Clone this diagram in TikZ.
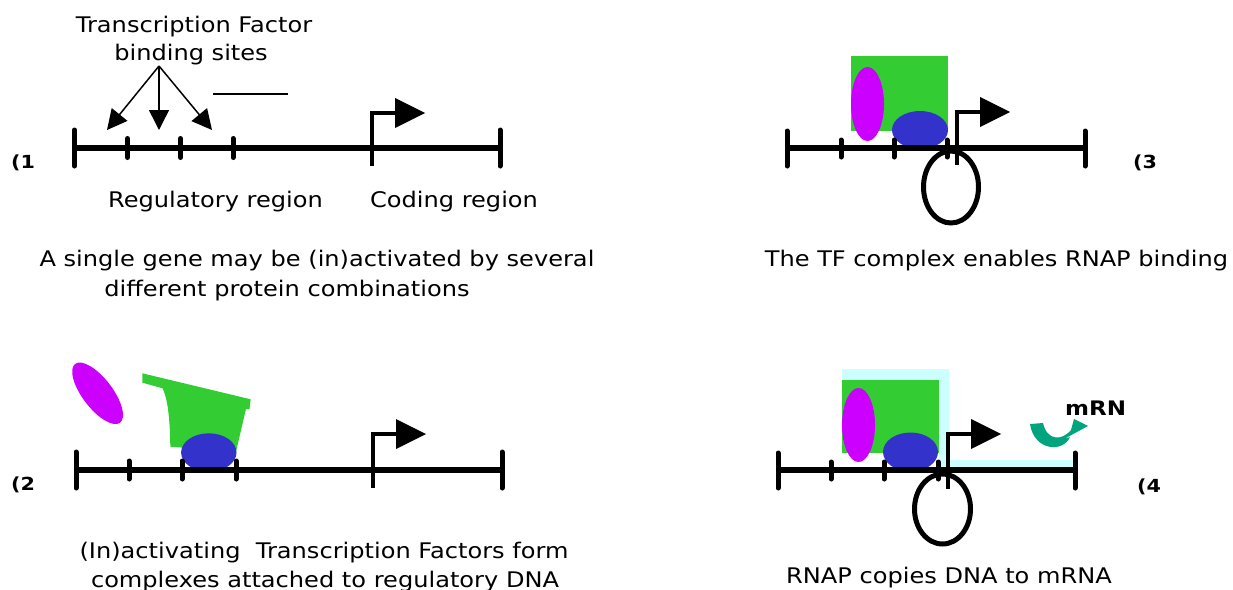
\documentclass[tikz,border=0pt]{standalone}
\usepackage{fontspec}
\setmainfont{DejaVu Sans}[FakeStretch=1.12]
\newfontfamily\tagfont{DejaVu Sans}[FakeStretch=1.15]
\usetikzlibrary{arrows.meta}
\definecolor{tfgreen}{RGB}{51,204,51}
\definecolor{tfpink}{RGB}{204,0,255}
\definecolor{tfblue}{RGB}{51,51,204}
\definecolor{rnapcyan}{RGB}{204,255,255}
\definecolor{mrnateal}{RGB}{0,165,125}

\begin{document}
\begin{tikzpicture}[x=1pt, y=-1pt,
   every node/.style={inner sep=0pt, anchor=base, font=\fontsize{21.5}{30}\selectfont},
   tag/.style={anchor=base west, font=\tagfont\bfseries\fontsize{18}{20}\selectfont},
   dna/.style={line width=6pt},
   site/.style={line width=5pt, line cap=round},
   start/.style={line width=4pt},
   pointer/.style={line width=1.5pt, -{Triangle[length=20pt, width=20pt]}},
   loop/.style={line width=5pt}]
\useasboundingbox (0,0) rectangle (1233,589);

% (1) empty gene
\node (tftitle) at (194,32) {Transcription Factor};
\node (tfsites) at (191,60) {binding sites};
\coordinate (fork) at (159,66);
\coordinate (site1) at (107,130);
\coordinate (site2) at (159,130);
\coordinate (site3) at (212,130);
\draw [pointer] (fork) -- (site1);
\draw [pointer] (fork) -- (site2);
\draw [pointer] (fork) -- (site3);
\draw [line width=1.5pt] (213,94) -- (288,94);

\draw [dna] (75,147.5) -- (500,147.5);
\draw [site] (74.5,130) -- (74.5,166) (500,130) -- (500,166);
\draw [site] (127.5,138.5) -- (127.5,157.5) (180.5,138.5) -- (180.5,157.5) (233,138.5) -- (233,157.5);
\draw [start] (372,166) |- (396,113);
\fill (395,98) -- (425,113) -- (395,128) -- cycle;

\node [tag] (num1) at (11,168) {(1};
\node (reg) at (215.5,207) {Regulatory region};
\node (cod) at (454,207) {Coding region};
\node (cap1a) at (317,266) {A single gene may be (in)activated by several};
\node (cap1b) at (287,296) {different protein combinations};

% (2) factors arrive
\fill [tfpink, rotate around={-52.6:(97.6,393.3)}] (97.6,393.3) ellipse [x radius=37, y radius=15];
\fill [tfgreen] (142.4,373.3) -- (250.7,399.3) -- (249.5,409) -- (246,409) -- (236,451.7)
   -- (170.3,446.7) .. controls (170,420) and (168,400) .. (162.6,388.3) -- (142.4,382.7) -- cycle;
\fill [tfblue] (208.8,452.5) ellipse [x radius=27.7, y radius=19.2];

\draw [dna] (76,470) -- (502,470);
\draw [site] (76,452) -- (76,488) (502,452) -- (502,488);
\draw [site] (129,461) -- (129,479) (182,461) -- (182,479) (236,461) -- (236,479);
\draw [start] (373,488) |- (397,434);
\fill (396,419) -- (426,434) -- (396,449) -- cycle;

\node [tag] (num2) at (11,490) {(2};
\node (cap2a) at (324,558) {(In)activating\ \ Transcription Factors form};
\node (cap2b) at (325,587) {complexes attached to regulatory DNA};

% (3) polymerase bound
\fill [tfgreen] (851,56) rectangle (948,131);
\fill [tfpink] (867.5,104) ellipse [x radius=16.5, y radius=37];
\fill [tfblue] (920,130) ellipse [x radius=28, y radius=19];

\draw [dna] (787,148) -- (1085,148);
\draw [site] (787,131) -- (787,166) (1085,131) -- (1085,166);
\draw [site] (841,140) -- (841,157) (894,140) -- (894,157) (947,140) -- (947,157);
\draw [start] (957,165) |- (981,112);
\fill (980,97) -- (1010,112) -- (980,127) -- cycle;
\draw [loop] (951,187) ellipse [x radius=27.5, y radius=36];

\node [tag] (num3) at (1133,168) {(3};
\node (cap3) at (996.5,266) {The TF complex enables RNAP binding};

% (4) transcription
\fill [rnapcyan] (842,369) -- (949,369) -- (949,460) -- (1073,460) -- (1073,468)
   -- (939,468) -- (939,380) -- (842,380) -- cycle;
\fill [tfgreen] (842,380) rectangle (939,453);
\fill [tfpink] (858.5,425) ellipse [x radius=16.5, y radius=37];
\fill [tfblue] (910.5,452) ellipse [x radius=27.5, y radius=19.5];

\draw [dna] (778,470) -- (1075,470);
\draw [site] (778,453) -- (778,488) (1075,453) -- (1075,488);
\draw [site] (831,462) -- (831,479) (884,462) -- (884,479) (938,462) -- (938,479);
\draw [start] (948,489) |- (972,434);
\fill (971,419) -- (1001,434) -- (971,449) -- cycle;
\draw [loop] (942.5,509) ellipse [x radius=28, y radius=35];

\fill [mrnateal] (1030,424) .. controls (1034,451) and (1063,453) .. (1070,437) -- (1064,439)
   -- (1088,426) -- (1074,419) -- (1071,430) .. controls (1062,441) and (1047,441) .. (1043,423) -- cycle;
\node [tag, font=\tagfont\bfseries\fontsize{20}{22}\selectfont] (mrna) at (1065,415) {mRN};

\node [tag] (num4) at (1137,492) {(4};
\node (cap4) at (949,583) {RNAP copies DNA to mRNA};

\end{tikzpicture}
\end{document}
